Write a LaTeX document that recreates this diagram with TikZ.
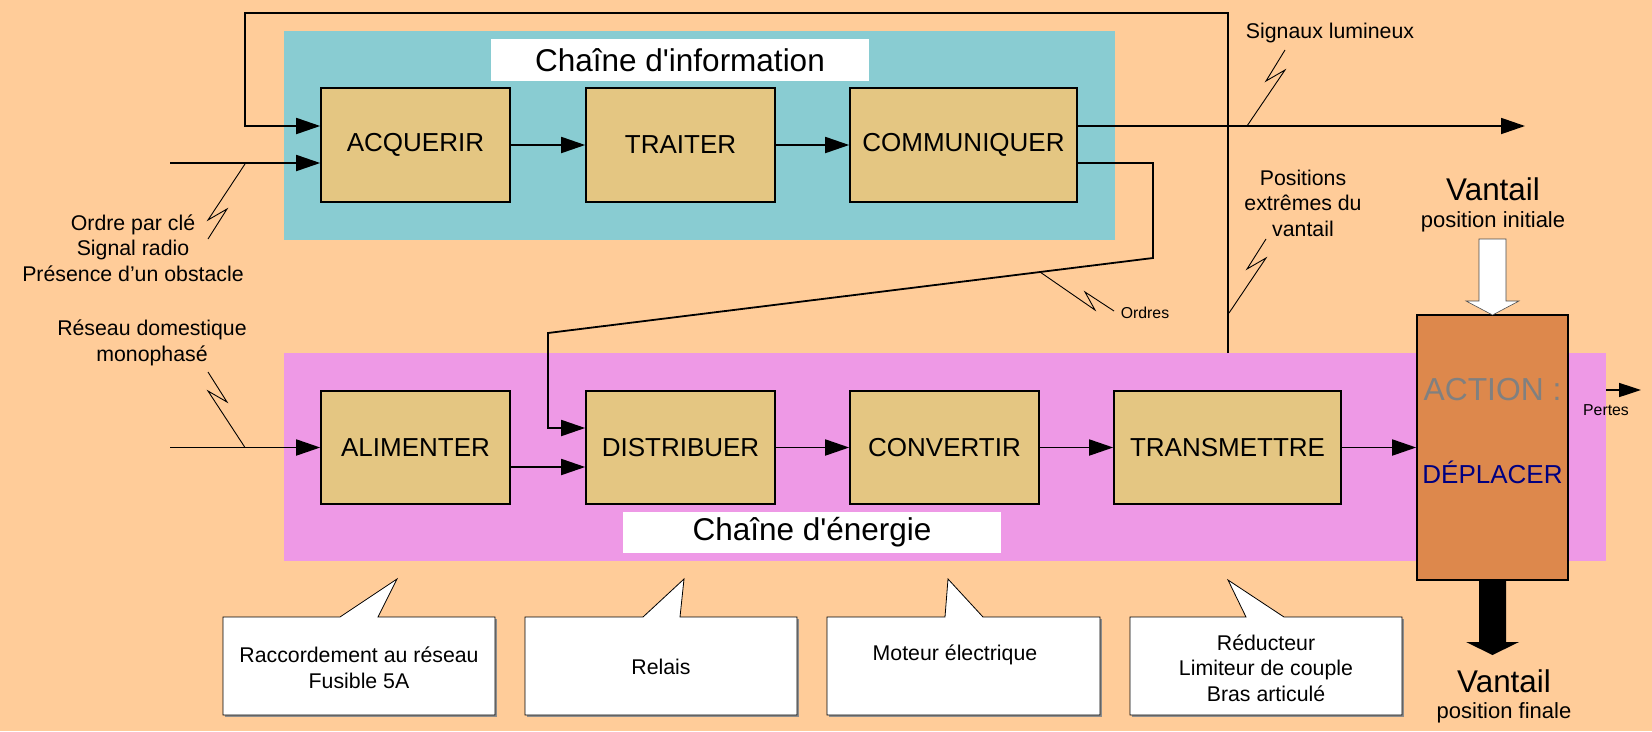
\documentclass[tikz,border=0pt]{standalone}
\usepackage{fontspec}
\setmainfont{Liberation Sans}[Ligatures=TeXOff]
\usetikzlibrary{arrows.meta}
\definecolor{bgc}{HTML}{FFCC99}
\definecolor{cyanc}{HTML}{89CCD2}
\definecolor{pinkc}{HTML}{EE99E6}
\definecolor{boxc}{HTML}{E4C682}
\definecolor{actc}{HTML}{DD884C}
\definecolor{navyc}{HTML}{000080}
\definecolor{grayc}{HTML}{808080}
\newcommand\myfs[2]{\fontsize{#1}{#2}\selectfont}
\begin{document}
\begin{tikzpicture}[x=1pt,y=-1pt,
 fbox/.style={draw=black, line width=1.6pt, fill=boxc, minimum width=189pt, minimum height=114pt, inner sep=0pt, font=\myfs{26}{30}},
 widebox/.style={minimum width=227pt},
 conn/.style={line width=1.8pt, -{Triangle[length=24pt,width=16pt]}},
 wire/.style={line width=1.8pt},
 bolt/.style={line width=0.9pt},
 lbl/.style={inner sep=0pt, align=center, font=\myfs{21.3}{25.5}},
 smalltxt/.style={inner sep=0pt, font=\myfs{15.8}{18}},
 titlebox/.style={fill=white, inner sep=0pt, minimum width=378pt, minimum height=42pt, font=\myfs{31.5}{36}},
 callout/.style={fill=white, draw=black, line width=0.8pt},
 calloutshadow/.style={fill=black!45},
 bigtxt/.style={inner sep=0pt, font=\myfs{31.4}{36}},
 midtxt/.style={inner sep=0pt, font=\myfs{22}{26}}
]
\useasboundingbox (0,0) rectangle (1652,731);
\fill[bgc] (0,0) rectangle (1652,731);
% zones
\fill[cyanc] (284,31) rectangle (1115,240);
\fill[pinkc] (284,353) rectangle (1606,561);
\node[titlebox] (tinfo) at (680,60) {Chaîne d'information};
\node[titlebox, minimum height=41pt] (tener) at (812,532.5) {Chaîne d'énergie};

% information chain
\node[fbox] (acq) at (415.5,145) {ACQUERIR};
\node[fbox] (trait) at (680.5,145) {TRAITER};
\node[fbox,widebox] (comm) at (963.5,145) {COMMUNIQUER};
% energy chain
\node[fbox, minimum height=113pt] (alim) at (415.5,447.5) {ALIMENTER};
\node[fbox, minimum height=113pt] (dist) at (680.5,447.5) {DISTRIBUER};
\node[fbox, minimum height=113pt] (conv) at (944.5,447.5) {CONVERTIR};
\node[fbox, minimum height=113pt, widebox] (trans) at (1227.5,447.5) {TRANSMETTRE};
% action
\node[draw=black, line width=1.6pt, fill=actc, minimum width=151pt, minimum height=265pt, inner sep=0pt] (act) at (1492.5,447.5) {};
\node[inner sep=0pt, text=grayc, font=\myfs{31.8}{36}] (acttxt) at (1492.5,390) {ACTION :};
\node[inner sep=0pt, text=navyc, font=\myfs{26}{30}] (deptxt) at (1492.5,472) {DÉPLACER};

% connectors information chain
\draw[conn] (acq) -- (trait);
\draw[conn] (trait) -- (comm);
\coordinate (fb) at (1228,353);
\draw[conn] (fb) -- (1228,13) -- (245,13) -- (245,126) -- (acq.west |- 0,126);
\coordinate (in1) at (170,163);
\draw[conn] (in1) -- (acq.west |- in1);
\coordinate (sigout) at (1525,126);
\draw[conn] (comm.east |- 0,126) -- (sigout);
\draw[conn] (comm.east |- 0,163) -- (1153,163) -- (1153,258) -- (548,333) -- (548,428) -- (dist.west |- 0,428);

% connectors energy chain
\coordinate (in2) at (170,447.5);
\draw[conn] (in2) -- (alim.west);
\draw[conn] (alim.east |- 0,467) -- (dist.west |- 0,467);
\draw[conn] (dist) -- (conv);
\draw[conn] (conv) -- (trans);
\draw[conn] (trans) -- (act);
\coordinate (pstart) at (1606,390);
\coordinate (pend) at (1641,390);
\draw[wire, line width=1.6pt, -{Triangle[length=22pt,width=14pt]}] (pstart) -- (pend);
\node[smalltxt] (pertes) at (1606,410) {Pertes};

% lightning bolts
\draw[bolt] (245,164) -- (208,220) -- (227,209) -- (208,239);
\draw[bolt] (245,447.5) -- (208,391) -- (227,402) -- (208,372);
\draw[bolt] (1247,126) -- (1285,70) -- (1266,81) -- (1285,50);
\draw[bolt] (1229,313) -- (1266,258) -- (1247,269) -- (1266,239);
\draw[bolt] (1040,272) -- (1095,310) -- (1085,292) -- (1114,311);

% labels
\node[lbl] (ordre) at (133,248) {Ordre par clé\\Signal radio\\Présence d’un obstacle};
\node[lbl] (reseau) at (152,343) {Réseau domestique\\monophasé};
\node[lbl] (signaux) at (1330,33) {Signaux lumineux};
\node[lbl] (positions) at (1303,203) {Positions\\extrêmes du\\vantail};
\node[smalltxt] (ordres) at (1145,313) {Ordres};

% big arrows
\fill[white] (1479,239) -- (1506,239) -- (1506,301) -- (1519,301) -- (1492.5,315) -- (1466,301) -- (1479,301) -- cycle;
\draw[line width=0.6pt, black!70] (1479,239) -- (1506,239) -- (1506,301) -- (1519,301) -- (1492.5,315) -- (1466,301) -- (1479,301) -- cycle;
\fill[black] (1479,580) -- (1506,580) -- (1506,642) -- (1519,642) -- (1492.5,655) -- (1466,642) -- (1479,642) -- cycle;
\node[bigtxt] (vt1) at (1493,189) {Vantail};
\node[midtxt] (pi) at (1493,222) {position initiale};
\node[bigtxt] (vt2) at (1504,681) {Vantail};
\node[midtxt] (pf) at (1504,713) {position finale};

% callouts
\begin{scope}[shift={(2,2)}]
\fill[calloutshadow] (223,617) -- (495,617) -- (495,715) -- (223,715) -- cycle;
\fill[calloutshadow] (525,617) -- (797,617) -- (797,715) -- (525,715) -- cycle;
\fill[calloutshadow] (827,617) -- (1100,617) -- (1100,715) -- (827,715) -- cycle;
\fill[calloutshadow] (1130,617) -- (1402,617) -- (1402,715) -- (1130,715) -- cycle;
\end{scope}
\draw[callout] (223,617) -- (340,617) -- (397,579) -- (378,617) -- (495,617) -- (495,715) -- (223,715) -- cycle;
\draw[callout] (525,617) -- (643,617) -- (684,579) -- (680,617) -- (797,617) -- (797,715) -- (525,715) -- cycle;
\draw[callout] (827,617) -- (945,617) -- (948,579) -- (983,617) -- (1100,617) -- (1100,715) -- (827,715) -- cycle;
\draw[callout] (1130,617) -- (1246,617) -- (1228,580) -- (1284,617) -- (1402,617) -- (1402,715) -- (1130,715) -- cycle;
\node[lbl] (c1) at (359,668) {Raccordement au réseau\\Fusible 5A};
\node[lbl] (c2) at (661,667) {Relais};
\node[lbl] (c3) at (955,655) {Moteur électrique};
\node[lbl] (c4) at (1266,668) {Réducteur\\Limiteur de couple\\Bras articulé};
\end{tikzpicture}
\end{document}
